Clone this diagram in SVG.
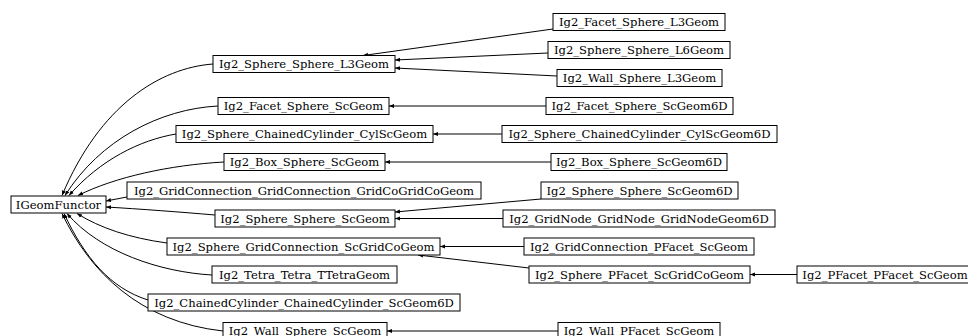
<svg xmlns="http://www.w3.org/2000/svg" width="968" height="336" viewBox="0 0 968 336">
<defs>
<style>
.n rect{fill:#fff;stroke:#000;stroke-width:1}
.n text{font-family:"DejaVu Serif",serif;font-size:11.6px;fill:#000;text-anchor:middle}
.e path{fill:none;stroke:#000;stroke-width:1;marker-end:url(#a)}
</style>
<marker id="a" markerUnits="userSpaceOnUse" markerWidth="6" markerHeight="6" refX="5" refY="2.5" orient="auto">
<path d="M0,0.5 L5,2.5 L0,4.5 z" fill="#000"/>
</marker>
</defs>
<rect width="968" height="336" fill="#fff"/>
<g id="edges" class="e">
<path d="M213,64 C160,68 100,105 62,195.5"/>
<path d="M218,106 C160,109 100,140 65,195.5"/>
<path d="M176,134 C140,140 100,160 69,195.5"/>
<path d="M224,162 C170,165 115,177 78,195.5"/>
<path d="M127,197 L106,201"/>
<path d="M215,215 C180,212 140,209 106,207"/>
<path d="M167,243 C130,238 100,228 77,213.5"/>
<path d="M212,275 C160,272 100,252 67,213.5"/>
<path d="M148,300 C110,288 85,258 64,213.5"/>
<path d="M223,331 C140,322 90,272 62,213.5"/>
<path d="M553,29 L363,55.5"/>
<path d="M548,53 L395,60"/>
<path d="M557,76 L395,68"/>
<path d="M546,106 L389,106"/>
<path d="M502,134 L433,134"/>
<path d="M551,162 L385,162"/>
<path d="M541,199 L395,212"/>
<path d="M503,218.5 L395,218.5"/>
<path d="M524,246.5 L440,246.5"/>
<path d="M529,268 L418,255"/>
<path d="M797,274.5 L750,274.5"/>
<path d="M558,331 L387,331"/>
</g>
<g id="IGeomFunctor" class="n"><rect x="11" y="196" width="95" height="17"/><text x="58.5" y="208.5">IGeomFunctor</text></g>
<g id="Ig2_Facet_Sphere_L3Geom" class="n"><rect x="553" y="13.5" width="172" height="17"/><text x="639" y="26">Ig2_Facet_Sphere_L3Geom</text></g>
<g id="Ig2_Sphere_Sphere_L6Geom" class="n"><rect x="548" y="41.5" width="182" height="17"/><text x="639" y="54">Ig2_Sphere_Sphere_L6Geom</text></g>
<g id="Ig2_Sphere_Sphere_L3Geom" class="n"><rect x="213" y="55.5" width="182" height="17"/><text x="304" y="68">Ig2_Sphere_Sphere_L3Geom</text></g>
<g id="Ig2_Wall_Sphere_L3Geom" class="n"><rect x="557" y="69.5" width="165" height="17"/><text x="639.5" y="82">Ig2_Wall_Sphere_L3Geom</text></g>
<g id="Ig2_Facet_Sphere_ScGeom" class="n"><rect x="218" y="97.5" width="171" height="17"/><text x="303.5" y="110">Ig2_Facet_Sphere_ScGeom</text></g>
<g id="Ig2_Facet_Sphere_ScGeom6D" class="n"><rect x="546" y="97.5" width="187" height="17"/><text x="639.5" y="110">Ig2_Facet_Sphere_ScGeom6D</text></g>
<g id="Ig2_Sphere_ChainedCylinder_CylScGeom" class="n"><rect x="176" y="125.5" width="257" height="17"/><text x="304.5" y="138">Ig2_Sphere_ChainedCylinder_CylScGeom</text></g>
<g id="Ig2_Sphere_ChainedCylinder_CylScGeom6D" class="n"><rect x="502" y="125.5" width="275" height="17"/><text x="639.5" y="138">Ig2_Sphere_ChainedCylinder_CylScGeom6D</text></g>
<g id="Ig2_Box_Sphere_ScGeom" class="n"><rect x="224" y="153.5" width="161" height="17"/><text x="304.5" y="166">Ig2_Box_Sphere_ScGeom</text></g>
<g id="Ig2_Box_Sphere_ScGeom6D" class="n"><rect x="551" y="153.5" width="176" height="17"/><text x="639" y="166">Ig2_Box_Sphere_ScGeom6D</text></g>
<g id="Ig2_GridConnection_GridConnection_GridCoGridCoGeom" class="n"><rect x="127" y="182" width="354" height="17"/><text x="304" y="194.5">Ig2_GridConnection_GridConnection_GridCoGridCoGeom</text></g>
<g id="Ig2_Sphere_Sphere_ScGeom6D" class="n"><rect x="541" y="182" width="197" height="17"/><text x="639.5" y="194.5">Ig2_Sphere_Sphere_ScGeom6D</text></g>
<g id="Ig2_Sphere_Sphere_ScGeom" class="n"><rect x="215" y="210" width="180" height="17"/><text x="305" y="222.5">Ig2_Sphere_Sphere_ScGeom</text></g>
<g id="Ig2_GridNode_GridNode_GridNodeGeom6D" class="n"><rect x="503" y="210" width="272" height="17"/><text x="639" y="222.5">Ig2_GridNode_GridNode_GridNodeGeom6D</text></g>
<g id="Ig2_Sphere_GridConnection_ScGridCoGeom" class="n"><rect x="167" y="238" width="273" height="17"/><text x="303.5" y="250.5">Ig2_Sphere_GridConnection_ScGridCoGeom</text></g>
<g id="Ig2_GridConnection_PFacet_ScGeom" class="n"><rect x="524" y="238" width="230" height="17"/><text x="639" y="250.5">Ig2_GridConnection_PFacet_ScGeom</text></g>
<g id="Ig2_Tetra_Tetra_TTetraGeom" class="n"><rect x="212" y="266" width="185" height="17"/><text x="304.5" y="278.5">Ig2_Tetra_Tetra_TTetraGeom</text></g>
<g id="Ig2_Sphere_PFacet_ScGridCoGeom" class="n"><rect x="529" y="266" width="221" height="17"/><text x="639.5" y="278.5">Ig2_Sphere_PFacet_ScGridCoGeom</text></g>
<g id="Ig2_PFacet_PFacet_ScGeom" class="n"><rect x="797" y="266" width="176" height="17"/><text x="885" y="278.5">Ig2_PFacet_PFacet_ScGeom</text></g>
<g id="Ig2_ChainedCylinder_ChainedCylinder_ScGeom6D" class="n"><rect x="148" y="294" width="312" height="17"/><text x="304" y="306.5">Ig2_ChainedCylinder_ChainedCylinder_ScGeom6D</text></g>
<g id="Ig2_Wall_Sphere_ScGeom" class="n"><rect x="223" y="322.5" width="164" height="17"/><text x="305" y="335">Ig2_Wall_Sphere_ScGeom</text></g>
<g id="Ig2_Wall_PFacet_ScGeom" class="n"><rect x="558" y="322.5" width="162" height="17"/><text x="639" y="335">Ig2_Wall_PFacet_ScGeom</text></g>
</svg>
